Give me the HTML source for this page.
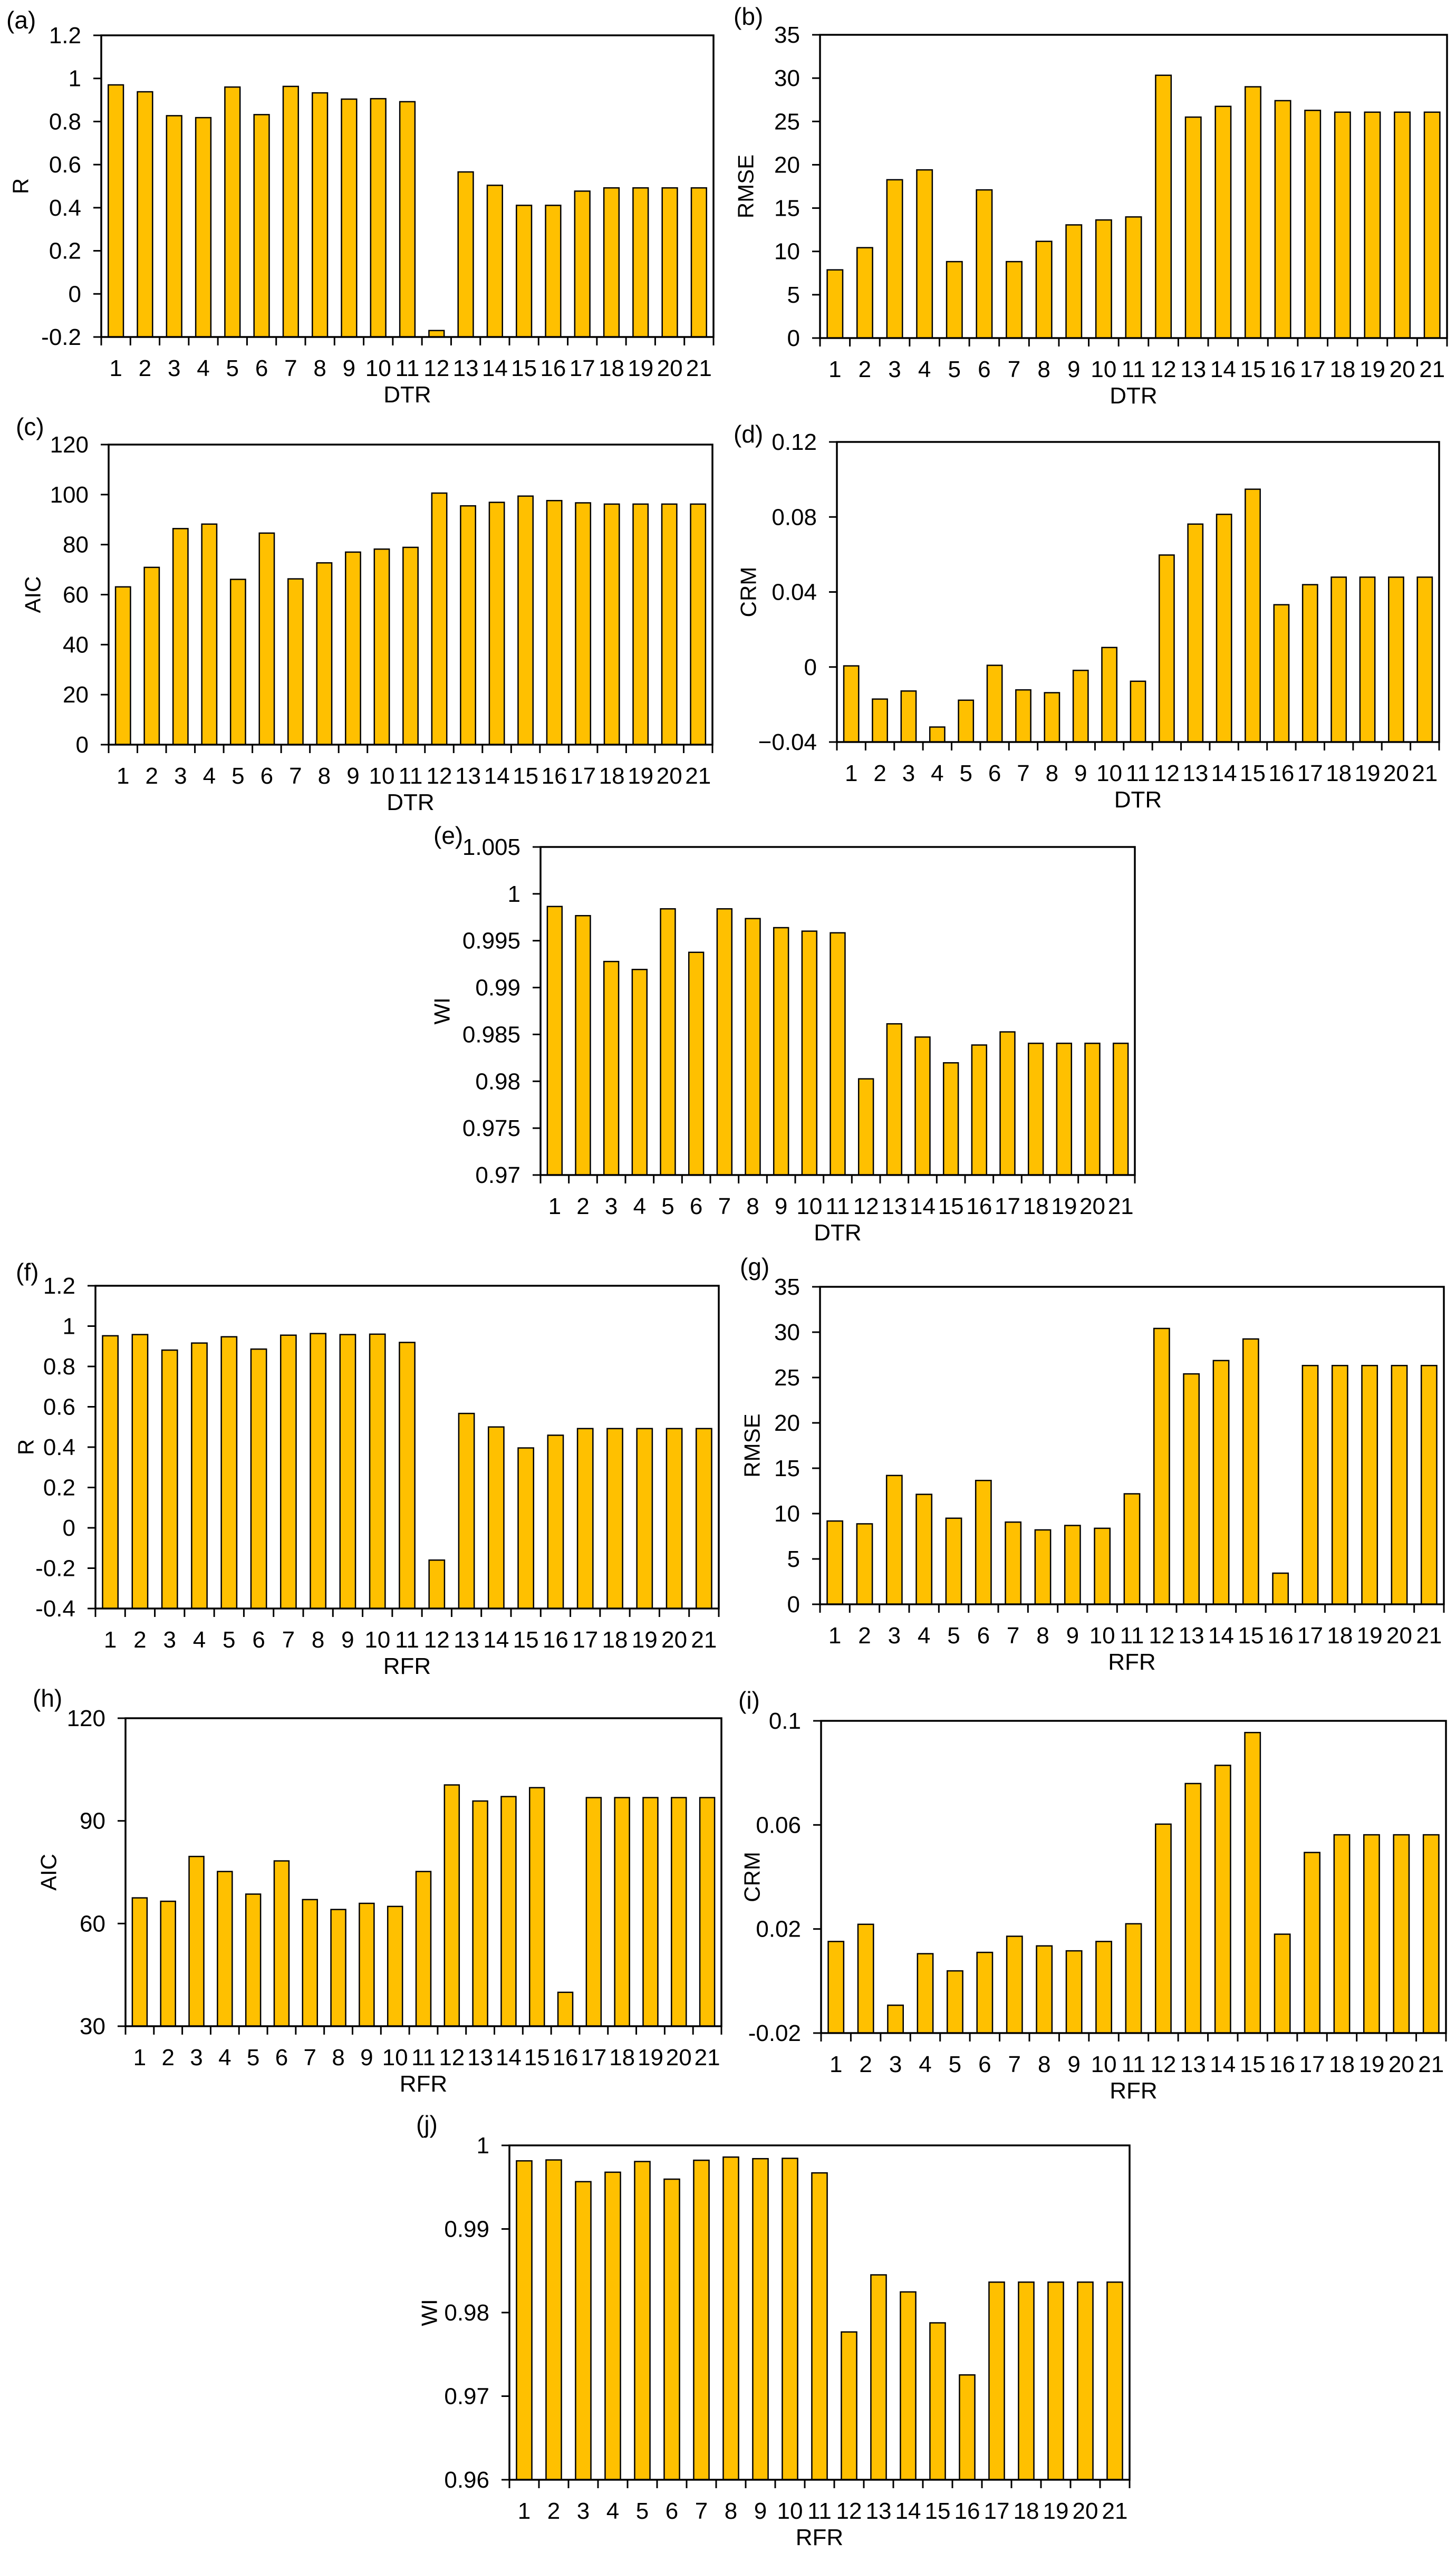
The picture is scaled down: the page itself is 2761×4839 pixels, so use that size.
<!DOCTYPE html>
<html><head><meta charset="utf-8">
<style>
html,body{margin:0;padding:0;background:#fff;}
svg{display:block;}
text{font-family:"Liberation Sans Narrow","Liberation Sans",sans-serif;fill:#000;}
</style></head>
<body>
<svg id="fig" width="2761" height="4839" viewBox="0 0 2761 4839" xmlns="http://www.w3.org/2000/svg"></svg>
<script>
const categories = ["1","2","3","4","5","6","7","8","9","10","11","12","13","14","15","16","17","18","19","20","21"];
const valuesA = [0.970,0.938,0.827,0.818,0.960,0.832,0.963,0.933,0.904,0.906,0.892,-0.170,0.566,0.504,0.411,0.411,0.477,0.492,0.492,0.492,0.492];
const valuesB = [7.87,10.43,18.27,19.41,8.82,17.1,8.82,11.16,13.06,13.63,13.98,30.33,25.5,26.74,29.0,27.4,26.28,26.07,26.07,26.07,26.07];
const valuesC = [63.1,70.9,86.4,88.2,66.1,84.6,66.3,72.7,77.0,78.2,78.9,100.6,95.5,96.9,99.4,97.6,96.7,96.2,96.2,96.2,96.2];
const valuesD = [0.0006,-0.0171,-0.0128,-0.032,-0.0177,0.0009,-0.0122,-0.0137,-0.0018,0.0104,-0.0076,0.0597,0.0762,0.0814,0.0948,0.0332,0.0439,0.0479,0.0479,0.0479,0.0479];
const valuesE = [0.99865,0.99767,0.99278,0.99193,0.99840,0.99376,0.99840,0.99736,0.99639,0.99602,0.99584,0.98026,0.98613,0.98472,0.98197,0.98387,0.98527,0.98405,0.98405,0.98405,0.98405];
const valuesF = [0.952,0.958,0.881,0.916,0.947,0.886,0.955,0.963,0.958,0.960,0.919,-0.160,0.567,0.500,0.396,0.459,0.492,0.492,0.492,0.492,0.492];
const valuesG = [9.18,8.87,14.2,12.12,9.49,13.65,9.06,8.2,8.69,8.38,12.18,30.41,25.4,26.87,29.25,3.43,26.32,26.32,26.32,26.32,26.32];
const valuesH = [67.5,66.5,79.6,75.2,68.6,78.3,67.0,64.1,65.9,65.0,75.2,100.5,95.8,97.1,99.7,39.9,96.8,96.8,96.8,96.8,96.8];
const valuesI = [0.0152,0.0218,-0.0093,0.0105,0.0039,0.011,0.0172,0.0135,0.0116,0.0152,0.022,0.0603,0.0759,0.0829,0.0955,0.018,0.0494,0.0562,0.0562,0.0562,0.0562];
const valuesJ = [0.99815,0.99826,0.99566,0.99679,0.99807,0.99596,0.99822,0.9986,0.99841,0.99845,0.99671,0.97768,0.98451,0.98247,0.97877,0.97254,0.98364,0.98364,0.98364,0.98364,0.98364];

const ticksA = ["-0.2","0","0.2","0.4","0.6","0.8","1","1.2"];
const ticksB = ["0","5","10","15","20","25","30","35"];
const ticksC = ["0","20","40","60","80","100","120"];
const ticksD = ["\u22120.04","0","0.04","0.08","0.12"];
const ticksE = ["0.97","0.975","0.98","0.985","0.99","0.995","1","1.005"];
const ticksF = ["-0.4","-0.2","0","0.2","0.4","0.6","0.8","1","1.2"];
const ticksG = ["0","5","10","15","20","25","30","35"];
const ticksH = ["30","60","90","120"];
const ticksI = ["-0.02","0.02","0.06","0.1"];
const ticksJ = ["0.96","0.97","0.98","0.99","1"];

const NS = "http://www.w3.org/2000/svg";
const svg = document.getElementById("fig");
function mk(tag, attrs, parent){
  const e = document.createElementNS(NS, tag);
  for (const k in attrs) e.setAttribute(k, attrs[k]);
  (parent||svg).appendChild(e);
  return e;
}
function num(s){ return parseFloat(s.replace("\u2212","-")); }

function panel(id, label, ytitle, xtitle, vals, ticks, L, R, T, B, ytx){
  const g = mk("g", {});
  
  
  const tv = ticks.map(num);
  const ymin = tv[0], ymax = tv[tv.length-1];
  const yScale = v => B - (v - ymin) / (ymax - ymin) * (B - T);
  const n = categories.length;
  const cw = (R - L) / n;
  const xScale = i => L + cw * (i + 0.5);
  const bw = cw * 0.52;
  // bars
  vals.forEach((v, i) => {
    const y = yScale(v);
    const r = mk("rect", {x: xScale(i) - bw/2, y: Math.min(y, B), width: bw, height: Math.abs(B - y), fill: "#FFC000", stroke: "#000", "stroke-width": 2.5}, g);
    
    
  });
  // frame
  const f = mk("rect", {x: L, y: T, width: R - L, height: B - T, fill: "none", stroke: "#000", "stroke-width": 3.5}, g);
  
  
  // y ticks
  tv.forEach((t, k) => {
    const y = yScale(t);
    mk("line", {x1: L - 15, x2: L, y1: y, y2: y, stroke: "#000", "stroke-width": 3}, g);
    const tx = mk("text", {x: L - 38, y: y + 15, "text-anchor": "end", "font-size": 44}, g);
    tx.textContent = ticks[k];
    
    
  });
  // x ticks
  for (let i = 0; i <= n; i++) {
    const x = L + cw * i;
    mk("line", {x1: x, x2: x, y1: B, y2: B + 16, stroke: "#000", "stroke-width": 3}, g);
  }
  categories.forEach((c, i) => {
    const tx = mk("text", {x: xScale(i), y: B + 74, "text-anchor": "middle", "font-size": 44}, g);
    tx.textContent = c;
    
    
  });
  const xt = mk("text", {x: (L + R) / 2, y: B + 124, "text-anchor": "middle", "font-size": 44}, g);
  xt.textContent = xtitle;
  
  
  const yc = (T + B) / 2;
  const yt = mk("text", {x: ytx, y: yc, "text-anchor": "middle", "font-size": 42, transform: "rotate(-90 " + ytx + " " + yc + ")", "dominant-baseline": "central", style: "font-family:'Liberation Sans',sans-serif"}, g);
  yt.textContent = ytitle;
  
  
  const pl = mk("text", {x: label[1], y: label[2] + 15, "font-size": 46}, g);
  pl.textContent = label[0];
  
  
}

panel("a", ["(a)", 12, 39], "R", "DTR", valuesA, ticksA, 192, 1353, 67, 639, 39);
panel("b", ["(b)", 1391, 32], "RMSE", "DTR", valuesB, ticksB, 1555, 2744, 66, 641, 1414);
panel("c", ["(c)", 30, 810], "AIC", "DTR", valuesC, ticksC, 206, 1351, 843, 1412, 62);
panel("d", ["(d)", 1391, 824], "CRM", "DTR", valuesD, ticksD, 1587, 2729, 838, 1407, 1419);
panel("e", ["(e)", 822, 1585], "WI", "DTR", valuesE, ticksE, 1025, 2152, 1606, 2228, 838);
panel("f", ["(f)", 30, 2413], "R", "RFR", valuesF, ticksF, 181, 1363, 2438, 3050, 49);
panel("g", ["(g)", 1403, 2403], "RMSE", "RFR", valuesG, ticksG, 1555, 2738, 2440, 3042, 1426);
panel("h", ["(h)", 62, 3221], "AIC", "RFR", valuesH, ticksH, 238, 1368, 3258, 3842, 92);
panel("i", ["(i)", 1400, 3225], "CRM", "RFR", valuesI, ticksI, 1557, 2742, 3263, 3855, 1426);
panel("j", ["(j)", 789, 4029], "WI", "RFR", valuesJ, ticksJ, 966, 2142, 4068, 4702, 814);
</script>
</body></html>
